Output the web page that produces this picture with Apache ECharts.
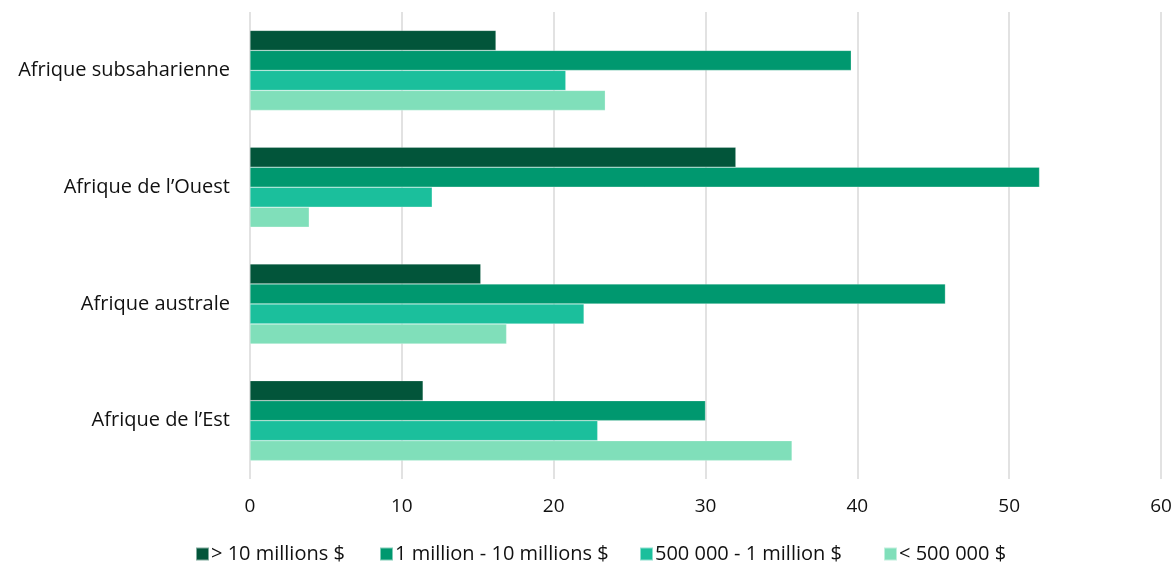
<!DOCTYPE html>
<html>
<head>
<meta charset="utf-8">
<script src="https://cdn.jsdelivr.net/npm/echarts@6/dist/echarts.min.js"></script>
<style>
html,body{margin:0;padding:0;background:#fff;}
#chart{width:1176px;height:565px;}
</style>
</head>
<body>
<div id="chart"></div>
<script>
const categories = ["Afrique subsaharienne", "Afrique de l\u2019Ouest", "Afrique australe", "Afrique de l\u2019Est"];
const seriesNames = ["> 10 millions $", "1 million - 10 millions $", "500 000 - 1 million $", "< 500 000 $"];
const over10M = [16.2, 32.0, 15.2, 11.4];
const from1Mto10M = [39.6, 52.0, 45.8, 30.0];
const from500kto1M = [20.8, 12.0, 22.0, 22.9];
const under500k = [23.4, 3.9, 16.9, 35.7];
const xTicks = [0, 10, 20, 30, 40, 50, 60];

const colors = ["#02553a", "#00986f", "#1bbf9c", "#80dfba"];
const dataSets = [over10M, from1Mto10M, from500kto1M, under500k];
const legendLefts = [195, 379, 639, 883];
const fontFamily = "'Open Sans', sans-serif";

const chart = echarts.init(document.getElementById('chart'));
chart.setOption({
  animation: false,
  color: colors,
  textStyle: { fontFamily: fontFamily },
  grid: { left: 250, right: 15, top: 12, bottom: 86, containLabel: false },
  legend: seriesNames.map((name, i) => ({
    data: [name],
    left: legendLefts[i],
    top: 544,
    padding: 0,
    itemWidth: 13,
    itemHeight: 13,
    icon: 'rect',
    textStyle: { fontSize: 20, color: '#111', fontFamily: fontFamily, padding: [0, 0, 0, -3] }
  })),
  xAxis: {
    type: 'value',
    min: xTicks[0],
    max: xTicks[xTicks.length - 1],
    interval: 10,
    axisLine: { show: false },
    axisTick: { show: false },
    axisLabel: { fontSize: 19, color: '#111', margin: 18, fontFamily: fontFamily },
    splitLine: { show: true, lineStyle: { color: '#d9d9d9', width: 1.5 } }
  },
  yAxis: {
    type: 'category',
    data: categories,
    inverse: true,
    axisLine: { show: false },
    axisTick: { show: false },
    axisLabel: { fontSize: 20, color: '#111', margin: 20, fontFamily: fontFamily }
  },
  series: seriesNames.map((name, i) => ({
    name: name,
    type: 'bar',
    data: dataSets[i],
    barWidth: 20,
    barGap: '0%',
    itemStyle: { color: colors[i], borderColor: 'rgba(255,255,255,0.5)', borderWidth: 0.5 }
  }))
});
</script>
</body>
</html>
